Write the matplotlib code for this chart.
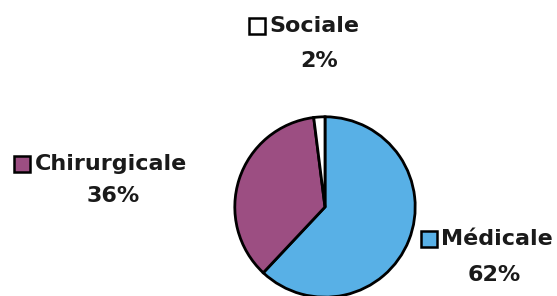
import matplotlib
matplotlib.use("Agg")
import matplotlib.pyplot as plt
from matplotlib.patches import Rectangle

plt.rcParams["font.family"] = ["DejaVu Sans"]

# données
categories = ["Médicale", "Chirurgicale", "Sociale"]
values = [62, 36, 2]
colors = ["#58b0e6", "#9c4e82", "#ffffff"]

W, H = 557, 296
fig = plt.figure(figsize=(W / 100, H / 100), dpi=100)

# camembert : centre ~ (325, 207) px, rayon ~ 92 px
cx, cy, r = 325, 207, 92
ax = fig.add_axes([(cx - r) / W, 1 - (cy + r) / H, 2 * r / W, 2 * r / H])
ax.pie(values, colors=colors, startangle=90, counterclock=False, radius=1,
       wedgeprops=dict(edgecolor="black", linewidth=2))
ax.set_xlim(-1.02, 1.02)
ax.set_ylim(-1.02, 1.02)
ax.set_aspect("equal")
ax.axis("off")

# étiquettes : (x du carré, y ligne 1, x du texte, x centre du %, y ligne 2) en px
label_pos = {
    "Sociale": (249, 26, 269, 319, 61),
    "Chirurgicale": (14, 164, 35, 113, 196),
    "Médicale": (421, 239, 441, 494, 275),
}
for cat, val, col in zip(categories, values, colors):
    sx, ty, tx, px, py = label_pos[cat]
    fig.patches.append(Rectangle((sx / W, 1 - (ty + 8) / H), 16 / W, 16 / H,
                                 transform=fig.transFigure, facecolor=col,
                                 edgecolor="black", linewidth=1.8))
    fig.text(tx / W, 1 - ty / H, cat, fontsize=16, fontweight="bold",
             ha="left", va="center", color="#1a1a1a")
    fig.text(px / W, 1 - py / H, f"{val}%", fontsize=16, fontweight="bold",
             ha="center", va="center", color="#1a1a1a")

fig.savefig("out.png", dpi=100)
plt.close(fig)
